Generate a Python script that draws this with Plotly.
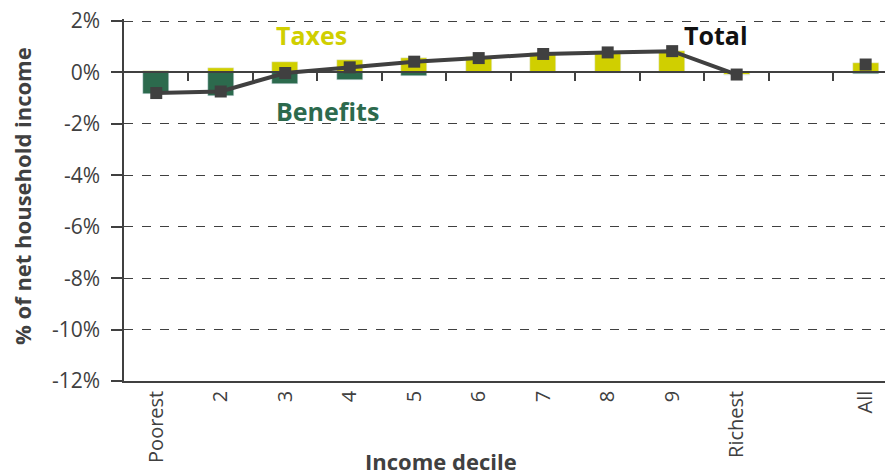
import plotly.graph_objects as go

categories = ["Poorest", "2", "3", "4", "5", "6", "7", "8", "9", "Richest", "", "All"]
taxes = [0.05, 0.18, 0.42, 0.5, 0.56, 0.6, 0.75, 0.78, 0.85, -0.08, None, 0.38]
benefits = [-0.85, -0.92, -0.45, -0.3, -0.14, -0.02, -0.02, -0.01, -0.02, -0.01, None, -0.07]
total = [-0.8, -0.74, -0.02, 0.2, 0.42, 0.56, 0.72, 0.78, 0.83, -0.08, None, 0.31]

y_ticks = [2, 0, -2, -4, -6, -8, -10, -12]
y_tick_labels = ["2%", "0%", "-2%", "-4%", "-6%", "-8%", "-10%", "-12%"]

xpos = list(range(len(categories)))
label_pos = [i for i, c in enumerate(categories) if c]
label_txt = [c for c in categories if c]
boundaries = [i + 0.5 for i in range(len(categories) - 1)]

YELLOW = "#d0cf00"
GREEN = "#2c6a4d"
DARK = "#404040"
FONT = "Open Sans"

fig = go.Figure()
fig.add_trace(go.Bar(x=xpos, y=taxes, marker_color=YELLOW, width=0.4, name="Taxes"))
fig.add_trace(go.Bar(x=xpos, y=benefits, marker_color=GREEN, width=0.4, name="Benefits"))
fig.add_trace(go.Scatter(x=xpos, y=total, mode="lines+markers", connectgaps=False,
                         line=dict(color=DARK, width=4),
                         marker=dict(symbol="square", size=12, color=DARK), name="Total"))
# invisible helper trace for the zero-line axis
fig.add_trace(go.Scatter(x=[0], y=[0], xaxis="x2", mode="markers",
                         marker=dict(opacity=0), hoverinfo="skip", showlegend=False))

xr = [-0.5, 11.3]
fig.update_layout(
    width=885, height=475,
    margin=dict(l=124, r=0, t=19, b=94),
    paper_bgcolor="white", plot_bgcolor="white",
    barmode="relative", bargap=0,
    showlegend=False,
    font=dict(family=FONT, color=DARK, size=20),
    xaxis=dict(range=xr, tickvals=label_pos, ticktext=label_txt, tickangle=-90,
               showgrid=False, zeroline=False, showline=True, linecolor=DARK, linewidth=1.5,
               ticks="", tickfont=dict(size=20, color=DARK), automargin=False),
    xaxis2=dict(range=xr, overlaying="x", anchor="free", position=12 / 14.08, side="bottom",
                tickvals=boundaries, showticklabels=False, ticks="outside", ticklen=8,
                tickcolor=DARK, tickwidth=1.5, showline=True, linecolor=DARK, linewidth=1.5,
                showgrid=False, zeroline=False, automargin=False),
    yaxis=dict(range=[-12.0, 2.08], tickvals=y_ticks, ticktext=y_tick_labels,
               showgrid=True, gridcolor=DARK, gridwidth=1, griddash="dash",
               zeroline=False, showline=True, linecolor=DARK, linewidth=1.5,
               ticks="outside", ticklen=11, tickcolor=DARK, tickwidth=1.5,
               ticklabelstandoff=7,
               tickfont=dict(size=21, color=DARK), automargin=False),
    annotations=[
        dict(x=2.41, y=1.44, xref="x", yref="y", text="<b>Taxes</b>", showarrow=False,
             font=dict(size=25, color=YELLOW, family=FONT)),
        dict(x=2.66, y=-1.48, xref="x", yref="y", text="<b>Benefits</b>", showarrow=False,
             font=dict(size=25, color=GREEN, family=FONT)),
        dict(x=8.68, y=1.44, xref="x", yref="y", text="<b>Total</b>", showarrow=False,
             font=dict(size=25, color="#111111", family=FONT)),
        dict(x=(441 - 124) / 761, y=-(461 - 381) / 362, xref="paper", yref="paper",
             xanchor="center", yanchor="middle",
             text="<b>Income decile</b>", showarrow=False,
             font=dict(size=22, color=DARK, family=FONT)),
        dict(x=(22 - 124) / 761, y=(381 - 196) / 362, xref="paper", yref="paper",
             xanchor="center", yanchor="middle",
             text="<b>% of net household income</b>", showarrow=False, textangle=-90,
             font=dict(size=22, color=DARK, family=FONT)),
    ],
)

fig.write_html("out.html", config={"displayModeBar": False},
               post_script="document.body.style.margin='0';document.body.style.overflow='hidden';")
